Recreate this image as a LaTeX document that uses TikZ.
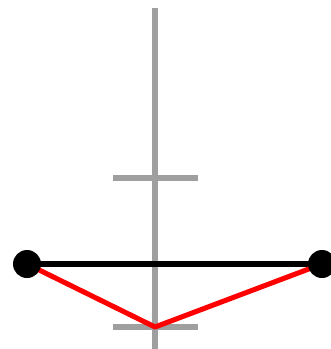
\documentclass[tikz,border=0pt]{standalone}
\begin{document}
\begin{tikzpicture}[x=0.75pt, y=-0.75pt, axis/.style={gray!75, line width=4.5pt}, dot/.style={circle, fill=black, inner sep=0pt, minimum size=21pt}]
        \useasboundingbox (0, 0) rectangle (331, 349);
        \coordinate (top) at (155, 8);
        \coordinate (bot) at (155, 349);
        \coordinate (t1l) at (113, 178);
        \coordinate (t1r) at (198, 178);
        \coordinate (t2l) at (113, 327);
        \coordinate (t2r) at (198, 327);
        \coordinate (m) at (155, 327);
        \coordinate (pa) at (27, 264);
        \coordinate (pb) at (322, 264);
        \draw[axis] (top) -- (bot);
        \draw[axis] (t1l) -- (t1r);
        \draw[axis] (t2l) -- (t2r);
        \draw[black, line width=3.8pt] (pa) -- (pb);
        \draw[red, line width=3.8pt, line join=round] (pa) -- (m) -- (pb);
        \node[dot] (a) at (pa) {};
        \node[dot] (b) at (pb) {};
    \end{tikzpicture}
\end{document}
